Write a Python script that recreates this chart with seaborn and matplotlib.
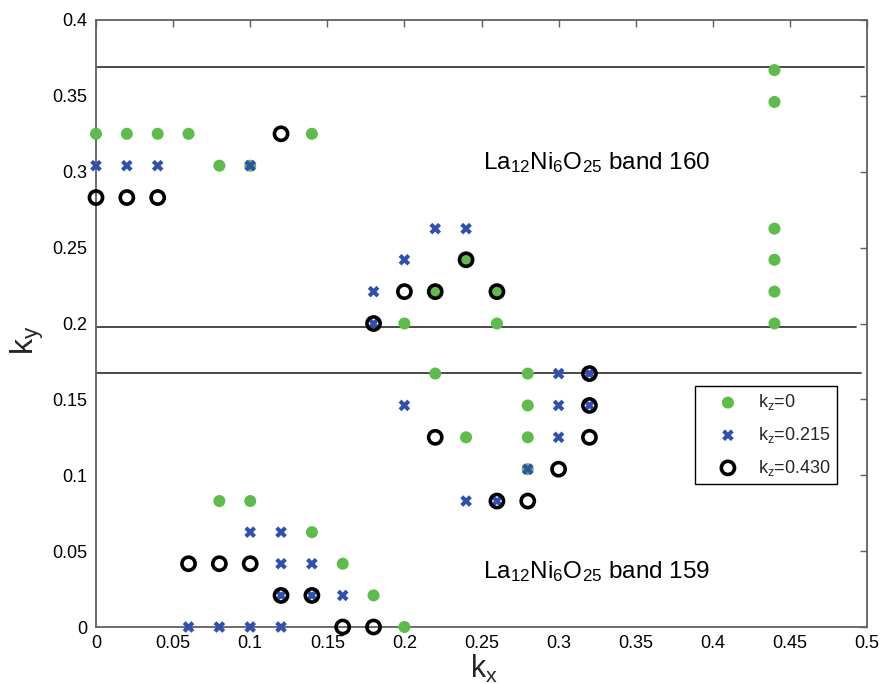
import matplotlib
matplotlib.use("Agg")
import matplotlib.pyplot as plt
import seaborn as sns
import pandas as pd
from matplotlib.ticker import FuncFormatter

# ---------------- data ----------------
kz0_kx = [0, 0.02, 0.04, 0.06, 0.14, 0.08, 0.10, 0.24, 0.22, 0.26, 0.20, 0.26,
          0.22, 0.28, 0.28, 0.24, 0.28, 0.28, 0.08, 0.10, 0.14, 0.16, 0.18, 0.20,
          0.44, 0.44, 0.44, 0.44, 0.44, 0.44]
kz0_ky = [0.325, 0.325, 0.325, 0.325, 0.325, 0.304, 0.304, 0.242, 0.221, 0.221, 0.200, 0.200,
          0.167, 0.167, 0.146, 0.125, 0.125, 0.104, 0.083, 0.083, 0.0625, 0.0417, 0.0208, 0.0,
          0.367, 0.346, 0.2625, 0.242, 0.221, 0.200]

kz1_kx = [0, 0.02, 0.04, 0.10, 0.22, 0.24, 0.20, 0.18, 0.18, 0.30, 0.32, 0.20, 0.30, 0.32,
          0.30, 0.28, 0.24, 0.26, 0.10, 0.12, 0.12, 0.14, 0.12, 0.14, 0.16,
          0.06, 0.08, 0.10, 0.12]
kz1_ky = [0.304, 0.304, 0.304, 0.304, 0.2625, 0.2625, 0.242, 0.221, 0.200, 0.167, 0.167, 0.146, 0.146, 0.146,
          0.125, 0.104, 0.083, 0.083, 0.0625, 0.0625, 0.0417, 0.0417, 0.0208, 0.0208, 0.0208,
          0.0, 0.0, 0.0, 0.0]

kz2_kx = [0, 0.02, 0.04, 0.12, 0.24, 0.20, 0.22, 0.26, 0.18, 0.32, 0.32, 0.22, 0.32,
          0.30, 0.26, 0.28, 0.06, 0.08, 0.10, 0.12, 0.14, 0.16, 0.18]
kz2_ky = [0.283, 0.283, 0.283, 0.325, 0.242, 0.221, 0.221, 0.221, 0.200, 0.167, 0.146, 0.125, 0.125,
          0.104, 0.083, 0.083, 0.0417, 0.0417, 0.0417, 0.0208, 0.0208, 0.0, 0.0]

series_labels = [r"$\mathregular{k_z}$=0", r"$\mathregular{k_z}$=0.215", r"$\mathregular{k_z}$=0.430"]

# horizontal reference lines: (ky, kx end)
hline_ky = [0.3688, 0.198, 0.1672]
hline_end = [0.498, 0.493, 0.496]

band_labels = [r"$\mathregular{La_{12}Ni_6O_{25}}$ band 160", r"$\mathregular{La_{12}Ni_6O_{25}}$ band 159"]
band_pos = [(0.251, 0.302), (0.251, 0.032)]

x_ticks = [0, 0.05, 0.1, 0.15, 0.2, 0.25, 0.3, 0.35, 0.4, 0.45, 0.5]
y_ticks = [0, 0.05, 0.1, 0.15, 0.2, 0.25, 0.3, 0.35, 0.4]

# ---------------- style ----------------
sns.set_theme(style="white")
plt.rcParams["font.family"] = ["Liberation Sans", "DejaVu Sans"]
plt.rcParams["mathtext.fontset"] = "custom"
plt.rcParams["mathtext.rm"] = "Liberation Sans"

GREEN = "#5cbd48"
BLUE = "#2f4fb2"
SPINE = "#606060"

fig = plt.figure(figsize=(8.82, 6.84), dpi=100)
ax = fig.add_axes([96 / 882, 1 - 627 / 684, (867 - 96) / 882, (627 - 20) / 684])

for y, xe in zip(hline_ky, hline_end):
    ax.plot([0, xe], [y, y], color="#3a3a3a", lw=1.3, zorder=1)

df0 = pd.DataFrame({"kx": kz0_kx, "ky": kz0_ky})
df1 = pd.DataFrame({"kx": kz1_kx, "ky": kz1_ky})
df2 = pd.DataFrame({"kx": kz2_kx, "ky": kz2_ky})

sns.scatterplot(data=df0, x="kx", y="ky", ax=ax, color=GREEN, marker="o", s=75,
                edgecolor="none", label=series_labels[0], zorder=3, clip_on=False)
sns.scatterplot(data=df1, x="kx", y="ky", ax=ax, color=BLUE, marker="X", s=70,
                edgecolor="none", label=series_labels[1], zorder=4, clip_on=False)
sns.scatterplot(data=df2, x="kx", y="ky", ax=ax, marker="o", s=90,
                facecolors="none", edgecolor="black", linewidth=2.6,
                label=series_labels[2], zorder=5, clip_on=False)

for txt, (x, y) in zip(band_labels, band_pos):
    ax.text(x, y, txt, fontsize=17.5, ha="left", va="baseline", color="black")

ax.set_xlim(0, 0.5)
ax.set_ylim(0, 0.4)
ax.set_xticks(x_ticks)
ax.set_yticks(y_ticks)
fmt = FuncFormatter(lambda v, p: f"{v:g}")
ax.xaxis.set_major_formatter(fmt)
ax.yaxis.set_major_formatter(fmt)
ax.tick_params(axis="both", which="major", direction="in", length=5, width=1,
               color=SPINE, labelsize=13, top=True, right=True, pad=6,
               labelcolor="black")
for sp in ax.spines.values():
    sp.set_color(SPINE)
    sp.set_linewidth(1.3)
    sp.set_visible(True)

ax.set_xlabel("")
ax.set_ylabel("")
fig.text(484 / 882, 1 - 669 / 684, r"$\mathregular{k_x}$", fontsize=22,
         ha="center", va="center")
fig.text(27 / 882, 1 - 340 / 684, r"$\mathregular{k_y}$", fontsize=23,
         ha="center", va="center", rotation=90)

leg = ax.legend(loc="upper right", bbox_to_anchor=(0.961, 0.397), fontsize=13,
                frameon=True, fancybox=False, edgecolor="black", framealpha=1,
                handletextpad=0.15, labelspacing=0.7, borderpad=0.35,
                handlelength=3.0, borderaxespad=0)
leg.get_frame().set_linewidth(1.0)

fig.savefig("out.png", dpi=100)
